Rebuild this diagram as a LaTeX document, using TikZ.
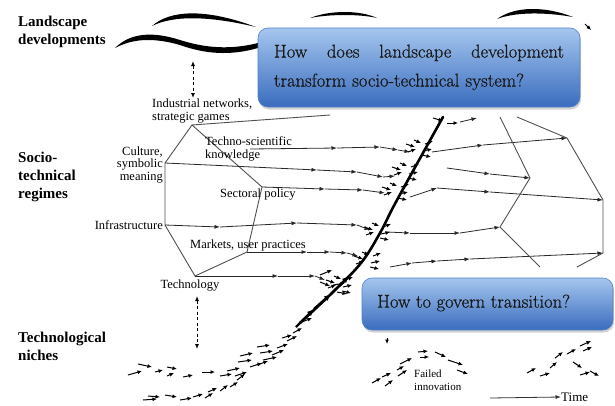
\documentclass[tikz,border=0pt]{standalone}
\usepackage{fontspec}
\newfontfamily\tnr{Liberation Serif}
\newfontfamily\qfont[FakeBold=0.8]{Latin Modern Roman}
\usetikzlibrary{arrows.meta,shadows}
\definecolor{boxtop}{RGB}{165,198,238}
\definecolor{boxbot}{RGB}{58,108,190}
\definecolor{boxline}{RGB}{80,130,200}
\definecolor{hexcol}{RGB}{80,80,80}
\definecolor{arcol}{RGB}{40,40,40}
\newcommand\achain[1]{\foreach \x/\y [count=\i, remember=\x as \px (initially 0), remember=\y as \py (initially 0)] in {#1} {\ifnum\i>1 \draw[ar] (\px,\py) -- (\x,\y);\fi}}
\newcommand\clus[2]{\begin{scope}[shift={(#1,#2)}]\foreach \a/\b/\c/\d in {-14/-3/-5/0, -12/5/-4/2, -6/-7/1/-4, 3/4/12/2, 2/8/11/10, 5/-3/13/-6} {\draw[sar] (\a,\b) -- (\c,\d);}\end{scope}}
\begin{document}
\begin{tikzpicture}[x=1pt,y=-1pt,
  hexline/.style={draw=hexcol,line width=0.9pt},
  ar/.style={draw=arcol,line width=0.8pt,-{Latex[length=5.5pt,width=4pt]}},
  sar/.style={draw=black,line width=1pt,-{Latex[length=4.5pt,width=4pt]}},
  lbl/.style={font=\tnr\fontsize{12.5}{12.5}\selectfont, inner sep=0pt, text=black},
  big/.style={font=\tnr\bfseries\fontsize{15}{18}\selectfont, align=left, anchor=west, inner sep=0pt},
  qbox/.style={rounded corners=10pt, top color=boxtop, bottom color=boxbot, draw=boxline, line width=0.6pt, drop shadow={opacity=0.35,shadow xshift=1pt,shadow yshift=-2.5pt}},
  qtext/.style={font=\qfont\fontsize{18.5}{29}\selectfont, text=black!90, inner sep=0pt},
  dashdbl/.style={dash pattern=on 3pt off 2.5pt, line width=0.9pt, {Latex[length=5pt,width=4pt]}-{Latex[length=5pt,width=4pt]}}
]
\useasboundingbox (0,0) rectangle (615,405);

% landscape strokes
\fill (152,26) .. controls (170,10) and (205,8) .. (256,27) .. controls (205,15) and (172,16) .. (152,26) -- cycle;
\fill (115,48) .. controls (130,33) and (152,31) .. (180,40) .. controls (205,48) and (230,50) .. (258,43)
   -- (258,48) .. controls (230,56) and (205,54) .. (180,45) .. controls (152,37) and (132,39) .. (115,48) -- cycle;
\fill (310,18) .. controls (330,10) and (360,10) .. (377,18) .. controls (360,14) and (330,14) .. (310,18) -- cycle;
\fill (497,19) .. controls (515,6) and (545,6) .. (573,17) .. controls (545,12) and (515,12) .. (497,19) -- cycle;
\draw[sar] (585,24) -- (591,30);

% left labels
\node[big] (land) at (18,32) {Landscape\\developments};
\node[big] (regime) at (18,177) {Socio-\\technical\\regimes};
\node[big] (niche) at (18,346) {Technological\\niches};

% dashed links
\coordinate (d1a) at (193,61); \coordinate (d1b) at (193,98);
\coordinate (d2a) at (197,296); \coordinate (d2b) at (197,349);
\draw[dashdbl] (d1a) -- (d1b);
\draw[dashdbl] (d2a) -- (d2b);

% hexagon
\coordinate (hA) at (192,125); \coordinate (hB) at (165,163); \coordinate (hC) at (165,225);
\coordinate (hD) at (195,276); \coordinate (hE) at (247,252); \coordinate (hF) at (262,187);
\draw[hexline] (hA) -- (hB) -- (hC) -- (hD) -- (hE) -- (hF) -- cycle;
\draw[hexline] (hA) -- (330,115);

\node[lbl, align=left, anchor=west] (indnet) at (152,111) {Industrial networks,\\strategic games};
\node[lbl, align=left, anchor=west] (techsci) at (205,149) {Techno-scientific\\knowledge};
\node[lbl, align=right, anchor=east] (culture) at (163,165) {Culture,\\symbolic\\meaning};
\node[lbl, anchor=west] (sect) at (220,195) {Sectoral policy};
\node[lbl, anchor=east] (infra) at (163,225) {Infrastructure};
\node[lbl, anchor=west] (markets) at (190,245) {Markets, user practices};
\node[lbl] (tech) at (190,286) {Technology};

% regime rows (left of the thick line)
\achain{250/149, 337/148, 380/147, 398/150, 410/152}
\achain{165/163, 317/170, 357/172, 383/177, 395/176}
\achain{262/187, 325/189, 363/190, 385/193}
\achain{165/225, 220/227, 297/223, 357/225, 370/230}
\achain{247/252, 307/252, 330/252, 347/253, 358/256}
\achain{195/276, 278/276, 315/276, 325/280}
% right of thick line
\achain{432/152, 483/145, 567/138}
\achain{447/168, 490/174, 530/178}
\achain{410/197, 437/188, 490/192, 603/200}
\achain{387/232, 410/233, 460/233, 500/227}
\achain{390/267, 412/263, 437/261, 470/259, 603/253}

% right polygons
\draw[hexline] (517,117) -- (567,138) -- (603,200) -- (603,253) -- (577,267);
\draw[hexline] (500,117) -- (530,178) -- (500,227) -- (540,267);

% clusters at crossings
\clus{420}{147}
\clus{406}{170}
\clus{396}{190}
\clus{378}{230}
\clus{368}{259}
\clus{340}{283}
\draw[sar] (433,118) -- (443,121);
\draw[sar] (447,123) -- (458,123);
\draw[ar] (460,122) -- (477,118);

% thick trajectory
\draw[line width=2.6pt, line cap=round] plot[smooth, tension=0.6] coordinates {(300,323) (333,292) (361,263) (380,233) (397,200) (443,117)};
\foreach \a/\b/\c/\d in {296/327/314/309, 314/309/331/294, 331/294/349/276}
  \draw[line width=2.4pt, -{Latex[length=7pt,width=6pt]}] (\a,\b) -- (\c,\d);

% niche arrows
\foreach \a/\b/\c/\d in {128/375/142/371, 138/364/152/367, 155/372/163/370, 167/367/177/369, 167/376/174/373,
  183/377/193/375, 202/372/215/372, 220/376/232/374, 227/371/240/368, 235/376/247/372, 238/362/252/360,
  240/356/253/353, 250/367/262/363, 257/365/268/361, 257/347/270/345, 260/353/273/351, 263/360/277/357,
  272/355/284/350, 277/348/288/344, 282/338/292/335, 287/341/297/336, 293/333/302/328, 302/322/312/318,
  143/400/157/399, 148/396/160/397, 165/395/177/397, 180/400/192/398, 193/397/203/394, 205/398/213/393,
  208/392/217/388, 220/391/228/385, 230/387/238/382, 237/380/245/374,
  320/275/332/270, 320/282/330/286, 333/285/345/283, 337/292/347/294,
  372/383/381/378, 382/377/391/373, 385/386/393/380, 397/370/404/366, 400/364/412/358, 418/352/428/351,
  420/357/429/357, 435/352/446/357, 448/360/463/365, 457/370/468/374, 398/376/407/370,
  527/373/536/368, 540/376/550/373, 550/368/557/362, 555/358/563/352, 567/354/576/349, 580/346/591/341,
  583/351/592/347, 573/362/582/368, 580/375/590/372, 590/371/599/376, 387/338/387/344}
  \draw[sar] (\a,\b) -- (\c,\d);

\node[lbl, font=\tnr\fontsize{11}{13}\selectfont, align=left, anchor=west] (failed) at (414,380) {Failed\\innovation};

% time axis
\coordinate (t0) at (490,398);
\node[lbl, font=\tnr\fontsize{13}{13}\selectfont, anchor=west] (time) at (561,397) {Time};
\draw[draw=black!80, line width=0.8pt, -{Latex[length=5.5pt,width=4pt]}] (t0) -- (time.west);

% question boxes
\node[qbox, minimum width=322pt, minimum height=79pt] (q1) at (419,67.5) {};
\node[qtext, text width=290pt] (q1t) at (q1.center) {How\hfill does\hfill landscape\hfill development\\transform socio-technical system?};
\node[qbox, minimum width=251pt, minimum height=52pt] (q2) at (487.5,304) {};
\node[qtext, anchor=west] (q2t) at (377,303) {How to govern transition?};
\end{tikzpicture}
\end{document}
